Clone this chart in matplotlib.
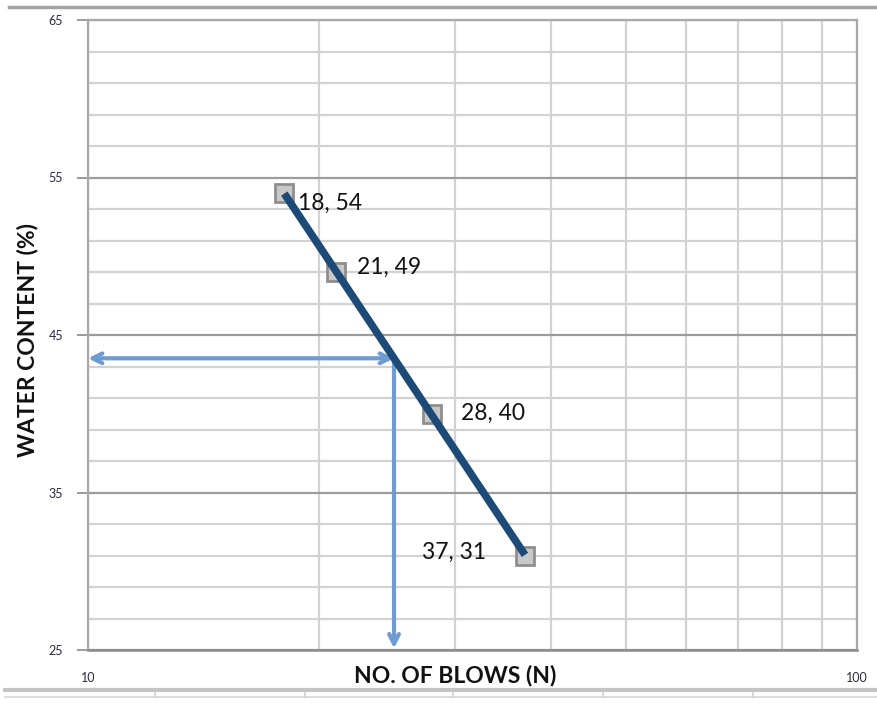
import numpy as np
import matplotlib
matplotlib.use("Agg")
import matplotlib.pyplot as plt
from matplotlib.lines import Line2D
from matplotlib.ticker import FixedLocator, NullFormatter, FixedFormatter

plt.rcParams['font.family'] = ['Lato', 'DejaVu Sans']

# Liquid limit test data
blows = [18, 21, 28, 37]
water_content = [54, 49, 40, 31]
point_labels = ["18, 54", "21, 49", "28, 40", "37, 31"]
n_reference = 25

y_major = [25, 35, 45, 55, 65]
x_major = [10, 100]
x_tick_labels = ["10", "100"]

W, H = 878, 704
fig = plt.figure(figsize=(W / 100, H / 100), dpi=100)
fig.patch.set_facecolor("white")

# spreadsheet borders around the chart
fig.add_artist(Line2D([9 / W, 1], [1 - 7 / H, 1 - 7 / H], color="#a3a3a3", lw=2.5))
fig.add_artist(Line2D([5 / W, 1], [1 - 690 / H, 1 - 690 / H], color="#c4c4c4", lw=3))
fig.add_artist(Line2D([5 / W, 1], [1 - 697 / H, 1 - 697 / H], color="#dddddd", lw=1.5))
for cx in [155, 305, 453, 603, 753]:
    fig.add_artist(Line2D([cx / W, cx / W], [1 - 697 / H, 1 - 692 / H], color="#d0d0d0", lw=1.2))

ax_w, ax_h = 857 - 88, 650 - 20
ax = fig.add_axes([88 / W, 1 - 650 / H, ax_w / W, ax_h / H])
ax.set_xscale("log")
ax.set_xlim(10, 100)
ax.set_ylim(25, 65)

ax.yaxis.set_major_locator(FixedLocator(y_major))
ax.yaxis.set_minor_locator(FixedLocator(list(range(27, 65, 2))))
ax.xaxis.set_major_locator(FixedLocator(x_major))
ax.xaxis.set_major_formatter(FixedFormatter(x_tick_labels))
ax.xaxis.set_minor_locator(FixedLocator(list(range(20, 100, 10))))
ax.xaxis.set_minor_formatter(NullFormatter())

ax.grid(True, which="major", axis="y", color="#9c9c9c", lw=1.6, zorder=0)
ax.grid(True, which="minor", axis="y", color="#d2d2d2", lw=1.6, zorder=0)
ax.grid(True, which="both", axis="x", color="#d2d2d2", lw=1.6, zorder=0)
ax.set_axisbelow(True)

for side in ["top", "right", "left"]:
    ax.spines[side].set_color("#a8a8a8")
    ax.spines[side].set_linewidth(1.6)
ax.spines["bottom"].set_color("#8c8c8c")
ax.spines["bottom"].set_linewidth(1.8)

ax.tick_params(axis="y", which="major", direction="out", length=8, width=1.4,
               color="#9a9a9a", labelsize=9, labelcolor="#2a2a44", pad=10)
ax.tick_params(axis="y", which="minor", length=0)
ax.tick_params(axis="x", which="both", length=0, labelsize=9,
               labelcolor="#2a2a44", pad=16)

# linear trend of water content against log(N)
logx = np.log10(blows)
slope, intercept = np.polyfit(logx, water_content, 1)
x_fit = np.array([min(blows), max(blows)])
y_fit = slope * np.log10(x_fit) + intercept
liquid_limit = slope * np.log10(n_reference) + intercept

ax.plot(blows, water_content, linestyle="none", marker="s", markersize=12.5,
        markerfacecolor="#c8c8c8", markeredgecolor="#8e8e8e",
        markeredgewidth=2, zorder=3)
ax.plot(x_fit, y_fit, color="#1d4a77", lw=5.5, solid_capstyle="butt", zorder=4)

arrow_color = "#6e9bd1"
ax.annotate("", xy=(10, liquid_limit), xytext=(n_reference, liquid_limit),
            arrowprops=dict(arrowstyle="<->,head_length=0.7,head_width=0.35",
                            color=arrow_color, lw=3, shrinkA=0, shrinkB=0),
            zorder=2)
ax.annotate("", xy=(n_reference, 25.1), xytext=(n_reference, liquid_limit),
            arrowprops=dict(arrowstyle="->,head_length=0.7,head_width=0.35",
                            color=arrow_color, lw=3, shrinkA=0, shrinkB=0),
            zorder=2)

offsets = [(10, -7, "left"), (15, 3, "left"), (21, 0, "left"), (-28, 2, "right")]
for x, y, text, (dx, dy, ha) in zip(blows, water_content, point_labels, offsets):
    ax.annotate(text, (x, y), xytext=(dx, dy), textcoords="offset points",
                ha=ha, va="center", fontsize=16.5, color="#111111", zorder=5)

ax.set_xlabel("NO. OF BLOWS (N)", fontsize=16.5, fontweight="bold",
              color="#111111")
ax.xaxis.set_label_coords((455 - 88) / ax_w, -15 / ax_h)
ax.set_ylabel("WATER CONTENT (%)", fontsize=16.5, fontweight="bold",
              color="#111111")
ax.yaxis.set_label_coords(-50 / ax_w, (650 - 340) / ax_h)

fig.savefig("out.png", dpi=100, facecolor="white")
